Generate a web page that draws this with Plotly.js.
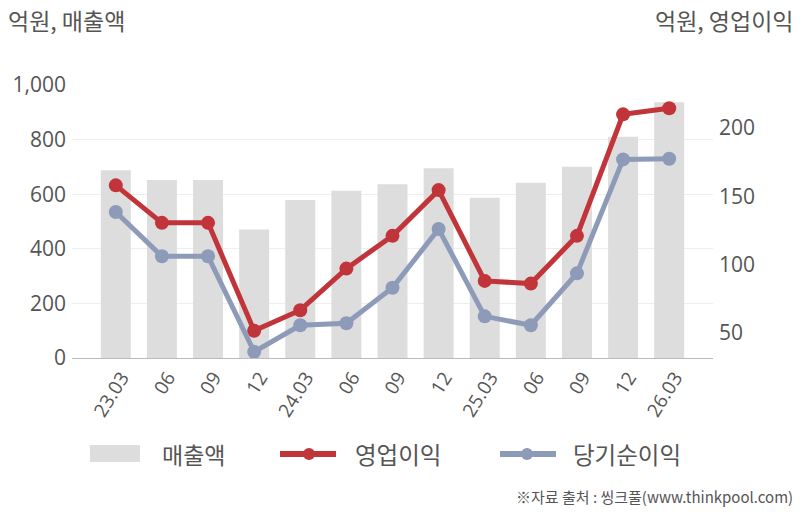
<!DOCTYPE html>
<html>
<head>
<meta charset="utf-8">
<script src="https://cdn.plot.ly/plotly-3.0.1.min.js"></script>
<style>
  html, body { margin: 0; padding: 0; background: #fff; }
  #chart { width: 802px; height: 512px; }
</style>
</head>
<body>
<div id="chart"></div>
<script>
// quarters (x tick labels)
var quarters = ['23.03', '06', '09', '12', '24.03', '06', '09', '12', '25.03', '06', '09', '12', '26.03'];
// 매출액 (left axis, 억원)
var sales = [688, 652, 652, 471, 579, 613, 636, 695, 587, 642, 701, 810, 937];
// 영업이익 (right axis, 억원)
var opProfit = [158, 130.5, 130.5, 51.5, 66.5, 97, 121, 154.5, 88, 86, 121, 210, 214.5];
// 당기순이익 (right axis, 억원)
var netProfit = [138.5, 106, 106, 36, 55.5, 57, 83, 126, 62, 55.5, 93.5, 177, 177.5];

var FONT = 'Open Sans, Noto Sans CJK KR, sans-serif';
var KFONT = 'Noto Sans CJK KR, Noto Sans, sans-serif';
var TXT = '#555555';
var RED = '#c1353a', BLUE = '#8d9bb9', GRAY = '#dddddd';
var xs = quarters.map(function (q, i) { return i; });

// plot area in pixels: x 72..713, y 85..358
var L = 72, R = 713, T = 85, B = 358;
function px(x) { return (x - L) / (R - L); }
function py(y) { return (B - y) / (B - T); }

var traces = [
  {
    type: 'bar', name: '매출액', x: xs, y: sales,
    marker: { color: GRAY }, width: 0.65,
    hoverinfo: 'skip'
  },
  {
    type: 'scatter', mode: 'lines+markers', name: '영업이익', x: xs, y: opProfit, yaxis: 'y2',
    line: { color: RED, width: 5 },
    marker: { color: RED, size: 14 },
    hoverinfo: 'skip'
  },
  {
    type: 'scatter', mode: 'lines+markers', name: '당기순이익', x: xs, y: netProfit, yaxis: 'y2',
    line: { color: BLUE, width: 5 },
    marker: { color: BLUE, size: 14 },
    hoverinfo: 'skip'
  }
];

// hand-drawn legend (wide swatches like the original)
var legendY = 454;
var shapes = [
  { type: 'rect', xref: 'paper', yref: 'paper', x0: px(90), x1: px(140), y0: py(445), y1: py(462),
    fillcolor: GRAY, line: { width: 0 } },
  { type: 'line', xref: 'paper', yref: 'paper', x0: px(280), x1: px(336), y0: py(legendY), y1: py(legendY),
    line: { color: RED, width: 6 } },
  { type: 'circle', xref: 'paper', yref: 'paper', x0: px(303), x1: px(315), y0: py(legendY + 6), y1: py(legendY - 6),
    fillcolor: RED, line: { width: 0 } },
  { type: 'line', xref: 'paper', yref: 'paper', x0: px(500), x1: px(556), y0: py(legendY), y1: py(legendY),
    line: { color: BLUE, width: 6 } },
  { type: 'circle', xref: 'paper', yref: 'paper', x0: px(521), x1: px(533), y0: py(legendY + 6), y1: py(legendY - 6),
    fillcolor: BLUE, line: { width: 0 } }
];

function label(text, x, y, anchor, size) {
  return { text: text, xref: 'paper', yref: 'paper', x: px(x), y: py(y),
    xanchor: anchor, yanchor: 'middle', showarrow: false,
    font: { family: KFONT, size: size, color: TXT } };
}

var annotations = [
  label('억원, 매출액', 6, 20, 'left', 23),
  label('억원, 영업이익', 796, 20, 'right', 23),
  label(traces[0].name, 160, legendY, 'left', 23),
  label(traces[1].name, 353, legendY, 'left', 23.5),
  label(traces[2].name, 571, legendY, 'left', 23.5),
  label('※자료 출처 : 씽크풀(www.thinkpool.com)', 795, 496, 'right', 15)
];

var layout = {
  width: 802, height: 512,
  margin: { l: L, r: 802 - R, t: T, b: 512 - B },
  paper_bgcolor: '#fff', plot_bgcolor: '#fff',
  font: { family: FONT, color: TXT, size: 21 },
  showlegend: false,
  xaxis: {
    range: [-0.95, 12.95],
    tickmode: 'array', tickvals: xs, ticktext: quarters,
    tickangle: -58,
    tickfont: { size: 19, color: TXT },
    ticklabelshift: 6,
    showgrid: false, zeroline: false,
    showline: true, linecolor: '#bbbbbb', linewidth: 1,
    ticks: '', fixedrange: true
  },
  yaxis: {
    range: [0, 1000], tickvals: [0, 200, 400, 600, 800, 1000],
    tickformat: ',d',
    showgrid: true, gridcolor: '#eeeeee', gridwidth: 1,
    zeroline: false, showline: false, ticks: '',
    ticklabelstandoff: 5,
    tickfont: { size: 21, color: TXT }
  },
  yaxis2: {
    overlaying: 'y', side: 'right',
    range: [31.5, 231.5], tickvals: [50, 100, 150, 200],
    showgrid: false, zeroline: false, showline: false, ticks: '',
    ticklabelstandoff: 5,
    tickfont: { size: 21, color: TXT }
  },
  shapes: shapes,
  annotations: annotations
};

Plotly.newPlot('chart', traces, layout, { displayModeBar: false, staticPlot: true });
</script>
</body>
</html>
